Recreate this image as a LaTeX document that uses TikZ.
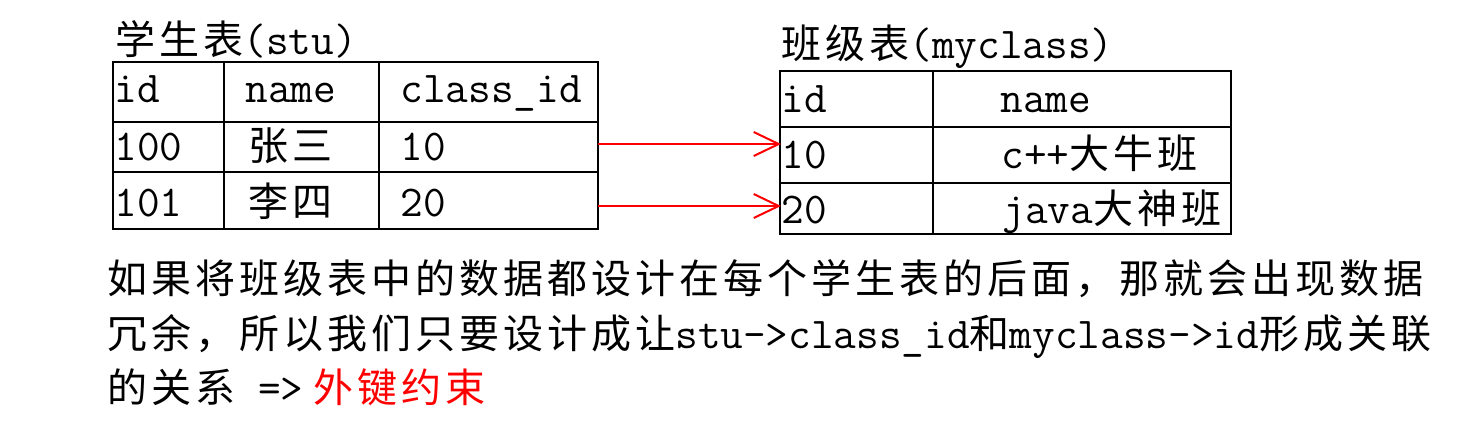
\documentclass[tikz,border=0pt]{standalone}
\usepackage{fontspec}
\newfontfamily\zhfont{Noto Sans CJK SC}[Scale=0.909,LetterSpace=10]
\newcommand{\zh}[1]{{\zhfont #1}}
\usetikzlibrary{arrows.meta}
\begin{document}
\begin{tikzpicture}[x=0.5pt, y=-0.5pt]
    \tikzstyle{cell} = [anchor=base west, inner sep=0pt, font=\ttfamily\fontsize{22pt}{27pt}\selectfont]
    \tikzstyle{grid} = [line width=1pt, black]
    \tikzstyle{fkarrow} = [line width=1pt, red, -{Straight Barb[length=12.5pt, width=12pt]}]

    \useasboundingbox (0,0) rectangle (1482,441);

    % student table
    \node (stutitle) [cell] at (115,54) {\zh{学生表}(stu)};
    \draw [grid] (113,62) rectangle (598,229);
    \draw [grid] (113,122) -- (598,122) (113,172) -- (598,172);
    \draw [grid] (224,62) -- (224,229) (379,62) -- (379,229);
    \node (stuid) [cell] at (114,102) {id};
    \node (stuname) [cell] at (245,102) {name};
    \node (stucid) [cell] at (400,102) {class\_id};
    \node (stu1id) [cell] at (114,160) {100};
    \node (stu1name) [cell] at (248,160) {\zh{张三}};
    \node (stu1cid) [cell] at (400,160) {10};
    \node (stu2id) [cell] at (114,216) {101};
    \node (stu2name) [cell] at (248,216) {\zh{李四}};
    \node (stu2cid) [cell] at (400,216) {20};

    % class table
    \node (clstitle) [cell] at (781,58) {\zh{班级表}(myclass)};
    \draw [grid] (780,71) rectangle (1231,234);
    \draw [grid] (780,127) -- (1231,127) (780,183) -- (1231,183);
    \draw [grid] (933,71) -- (933,234);
    \node (clsid) [cell] at (781,112) {id};
    \node (clsname) [cell] at (1000,112) {name};
    \node (cls1id) [cell] at (781,168) {10};
    \node (cls1name) [cell] at (1001,168) {c++\zh{大牛班}};
    \node (cls2id) [cell] at (781,223) {20};
    \node (cls2name) [cell] at (1002,223) {java\zh{大神班}};

    % foreign key links
    \coordinate (fk1) at (598,144);
    \coordinate (pk1) at (781,144);
    \coordinate (fk2) at (598,206);
    \coordinate (pk2) at (781,206);
    \draw [fkarrow] (fk1) -- (pk1);
    \draw [fkarrow] (fk2) -- (pk2);

    % note below
    \node (line1) [cell] at (107,293.5) {\zh{如果将班级表中的数据都设计在每个学生表的后面，那就会出现数据}};
    \node (line2) [cell] at (107,348) {\zh{冗余，所以我们只要设计成让}stu->class\_id\zh{和}myclass->id\zh{形成关联}};
    \node (line3) [cell] at (107,402.5) {\zh{的关系} =>\hspace{5pt}\textcolor{red}{\zh{外键约束}}};
\end{tikzpicture}
\end{document}
